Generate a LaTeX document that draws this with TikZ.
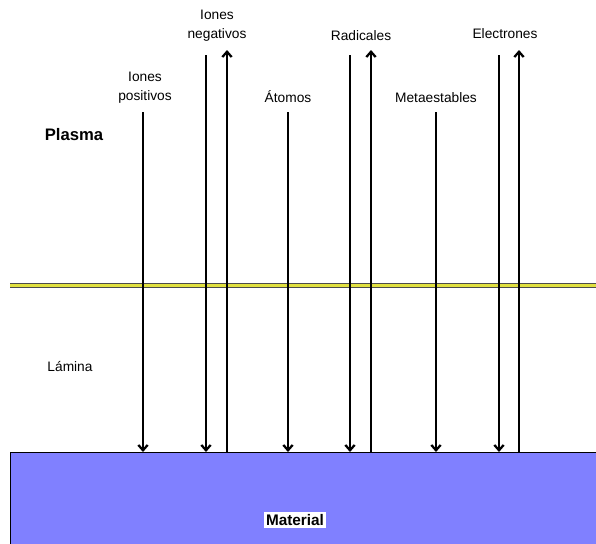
\documentclass[tikz,border=0pt]{standalone}
\usepackage{fontspec}
\setmainfont{Liberation Sans}
\usetikzlibrary{arrows.meta}
\definecolor{matblue}{HTML}{8080FF}
\definecolor{lineyel}{HTML}{E0E040}
\begin{document}
\begin{tikzpicture}[x=0.75pt,y=-0.75pt,
  lbl/.style={font=\fontsize{10.3}{14}\selectfont,align=center,inner sep=0pt},
  flux/.style={line width=1.7pt,-{Straight Barb[length=4pt,width=7pt]}}]
\useasboundingbox (0,0) rectangle (596,543);
% material
\fill[matblue,draw=black,line width=0.7pt] (10,452) rectangle (600,550);
\node[font=\fontsize{11.5}{14}\selectfont\bfseries,fill=white,inner sep=1.5pt] (mat) at (295,520) {Material};
% sheath boundary
\draw[line width=3.8pt,black!70] (10,285.5) -- (600,285.5);
\draw[line width=1.6pt,lineyel] (10,285.5) -- (600,285.5);
% labels
\node[font=\fontsize{12.5}{14}\selectfont\bfseries,inner sep=0pt] (plasma) at (74,135) {Plasma};
\node[lbl] (lamina) at (70,367) {Lámina};
\node[lbl] (ipos) at (145,88) {Iones\\positivos};
\node[lbl] (ineg) at (217,26) {Iones\\negativos};
\node[lbl] (atom) at (288,97) {Átomos};
\node[lbl] (rad) at (361,36) {Radicales};
\node[lbl] (meta) at (436,98) {Metaestables};
\node[lbl] (elec) at (505,34) {Electrones};
% coordinates
\coordinate (a1t) at (143,112); \coordinate (a1b) at (143,452);
\coordinate (a2t) at (206,55);  \coordinate (a2b) at (206,452);
\coordinate (a3t) at (227,50);  \coordinate (a3b) at (227,452);
\coordinate (a4t) at (288,112); \coordinate (a4b) at (288,452);
\coordinate (a5t) at (350,55);  \coordinate (a5b) at (350,452);
\coordinate (a6t) at (371,50);  \coordinate (a6b) at (371,452);
\coordinate (a7t) at (436,112); \coordinate (a7b) at (436,452);
\coordinate (a8t) at (499,55);  \coordinate (a8b) at (499,452);
\coordinate (a9t) at (519,50);  \coordinate (a9b) at (519,452);
% arrows
\draw[flux] (a1t) -- (a1b);
\draw[flux] (a2t) -- (a2b);
\draw[flux] (a3b) -- (a3t);
\draw[flux] (a4t) -- (a4b);
\draw[flux] (a5t) -- (a5b);
\draw[flux] (a6b) -- (a6t);
\draw[flux] (a7t) -- (a7b);
\draw[flux] (a8t) -- (a8b);
\draw[flux] (a9b) -- (a9t);
\end{tikzpicture}
\end{document}
